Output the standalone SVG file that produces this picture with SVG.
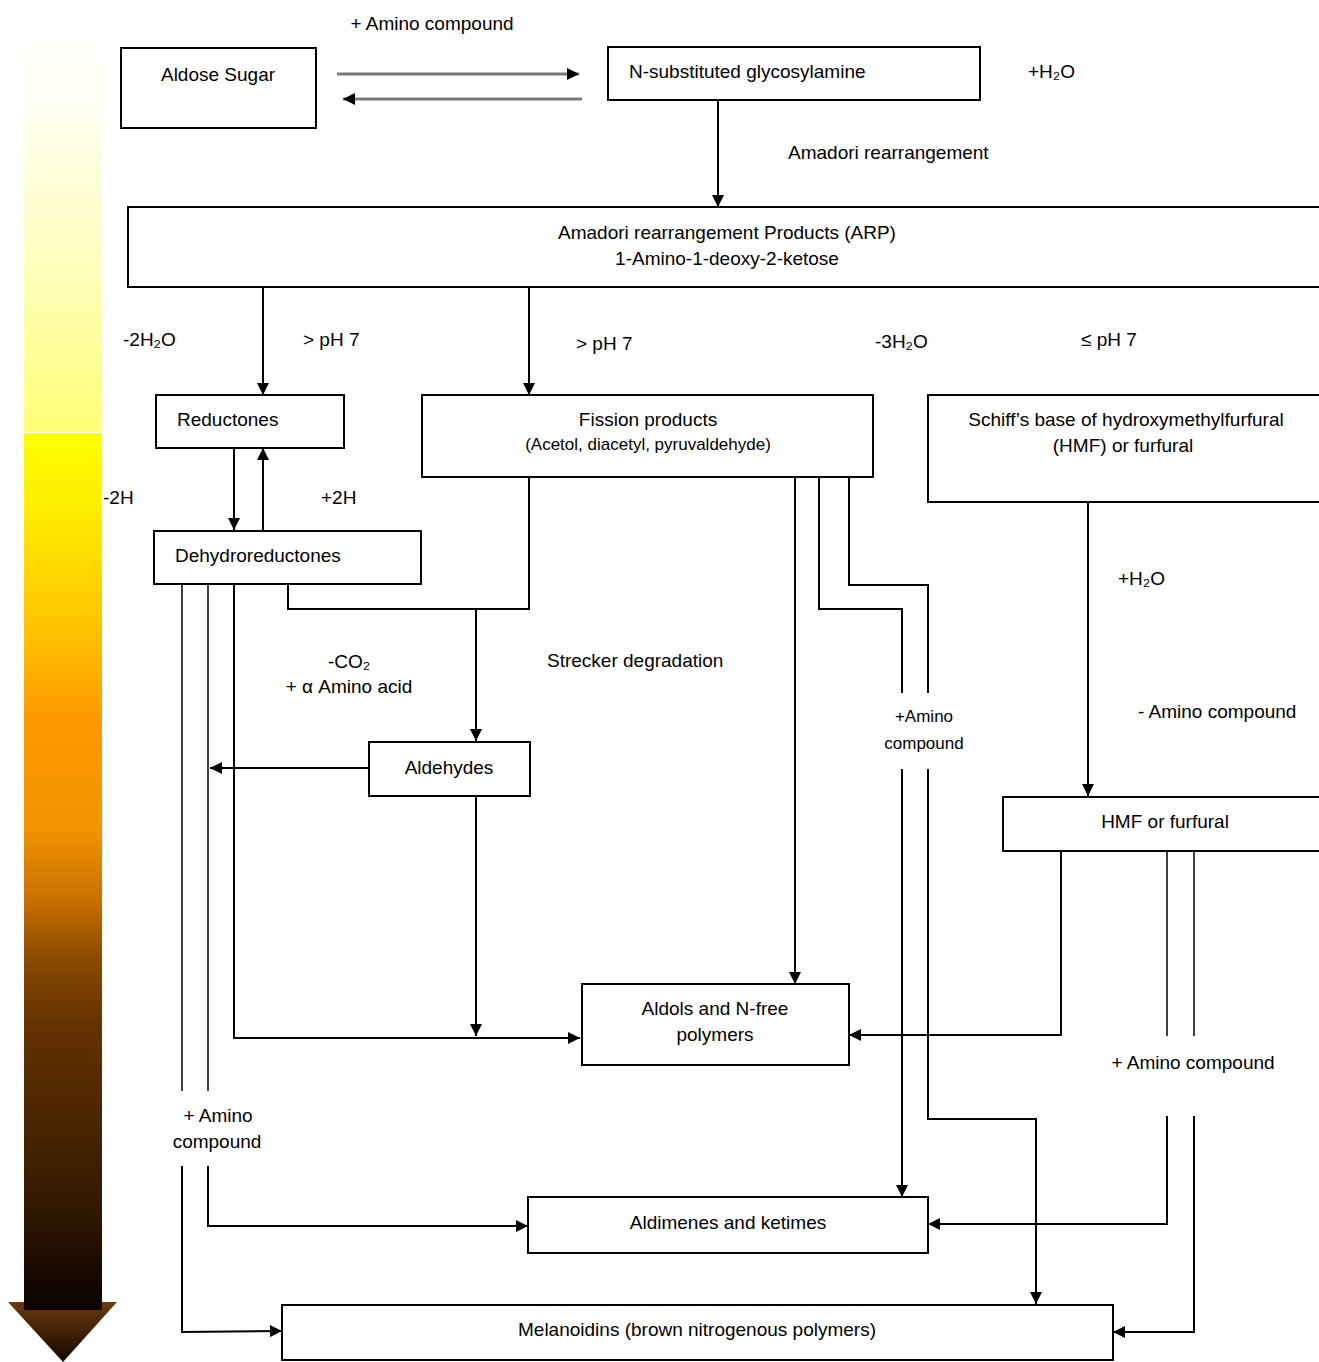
<svg xmlns="http://www.w3.org/2000/svg" width="1319" height="1362" viewBox="0 0 1319 1362">
<style>
text{font-family:"Liberation Sans",Arial,sans-serif;font-size:19px;fill:#000}
.sm{font-size:17px}
.mid{text-anchor:middle}
.box{fill:#fff;stroke:#000;stroke-width:2}
.c{fill:none;stroke:#000;stroke-width:2}
.t{fill:none;stroke:#000;stroke-width:1.5}
.g{fill:none;stroke:#7a7a7a;stroke-width:3}
</style>
<defs>
<marker id="ah" viewBox="0 0 10 10" refX="10" refY="5" markerWidth="15" markerHeight="12" markerUnits="userSpaceOnUse" orient="auto">
<path d="M0,0 L10,5 L0,10 z" fill="#000"/>
</marker>
<linearGradient id="gTop" x1="0" y1="0" x2="0" y2="1">
<stop offset="0" stop-color="#ffffff"/>
<stop offset="0.2" stop-color="#fffff2"/>
<stop offset="0.6" stop-color="#ffffbc"/>
<stop offset="1" stop-color="#ffff78"/>
</linearGradient>
<linearGradient id="gBot" x1="0" y1="0" x2="0" y2="1">
<stop offset="0" stop-color="#ffff00"/>
<stop offset="0.076" stop-color="#fff000"/>
<stop offset="0.167" stop-color="#ffd500"/>
<stop offset="0.21" stop-color="#ffc800"/>
<stop offset="0.327" stop-color="#ff9900"/>
<stop offset="0.453" stop-color="#f29200"/>
<stop offset="0.533" stop-color="#c87000"/>
<stop offset="0.6" stop-color="#8a4a00"/>
<stop offset="0.67" stop-color="#663300"/>
<stop offset="0.76" stop-color="#502800"/>
<stop offset="0.875" stop-color="#351a00"/>
<stop offset="0.977" stop-color="#120600"/>
<stop offset="1" stop-color="#0a0200"/>
</linearGradient>
<linearGradient id="gHead" x1="0" y1="0" x2="0" y2="1">
<stop offset="0" stop-color="#6b3a12"/>
<stop offset="1" stop-color="#140800"/>
</linearGradient>
</defs>

<g id="gradient-arrow">
<polygon points="8,1302 117,1302 63,1362" fill="url(#gHead)"/>
<rect x="24" y="25" width="78" height="407" fill="url(#gTop)"/>
<rect x="24" y="433" width="78" height="877" fill="url(#gBot)"/>
</g>

<g id="connectors">
<line class="g" x1="337" y1="74" x2="579" y2="74" marker-end="url(#ah)"/>
<line class="g" x1="582" y1="99" x2="343" y2="99" marker-end="url(#ah)"/>
<line class="c" x1="718" y1="100" x2="718" y2="207" marker-end="url(#ah)"/>
<line class="c" x1="263" y1="287" x2="263" y2="395" marker-end="url(#ah)"/>
<line class="c" x1="529" y1="287" x2="529" y2="395" marker-end="url(#ah)"/>
<line class="c" x1="234" y1="448" x2="234" y2="530" marker-end="url(#ah)"/>
<line class="c" x1="263" y1="530" x2="263" y2="448" marker-end="url(#ah)"/>
<polyline class="c" points="288,584 288,609 529,609 529,477"/>
<line class="c" x1="476" y1="609" x2="476" y2="741" marker-end="url(#ah)"/>
<line class="c" x1="369" y1="768" x2="210" y2="768" marker-end="url(#ah)"/>
<line class="c" x1="476" y1="796" x2="476" y2="1036" marker-end="url(#ah)"/>
<polyline class="c" points="234,584 234,1038 580,1038" marker-end="url(#ah)"/>
<line class="t" x1="208" y1="584" x2="208" y2="1091"/>
<polyline class="c" points="208,1166 208,1226 528,1226" marker-end="url(#ah)"/>
<line class="t" x1="182" y1="584" x2="182" y2="1091"/>
<polyline class="c" points="182,1166 182,1332 282,1331" marker-end="url(#ah)"/>
<line class="c" x1="795" y1="477" x2="795" y2="984" marker-end="url(#ah)"/>
<polyline class="c" points="819,477 819,609 902,609 902,693"/>
<line class="c" x1="902" y1="769" x2="902" y2="1197" marker-end="url(#ah)"/>
<polyline class="c" points="849,477 849,585 928,585 928,693"/>
<polyline class="c" points="928,769 928,1119 1036,1119 1036,1304" marker-end="url(#ah)"/>
<line class="c" x1="1088" y1="502" x2="1088" y2="796" marker-end="url(#ah)"/>
<polyline class="c" points="1061,851 1061,1035 849,1035" marker-end="url(#ah)"/>
<line class="t" x1="1167" y1="851" x2="1167" y2="1036"/>
<polyline class="c" points="1167,1116 1167,1224 928,1224" marker-end="url(#ah)"/>
<line class="t" x1="1194" y1="851" x2="1194" y2="1036"/>
<polyline class="c" points="1194,1116 1194,1332 1113,1332" marker-end="url(#ah)"/>
</g>

<g id="aldose-sugar">
<rect class="box" x="121" y="48" width="195" height="80"/>
<text class="mid" x="218" y="81">Aldose Sugar</text>
</g>
<g id="glycosylamine">
<rect class="box" x="608" y="47" width="372" height="53"/>
<text x="629" y="78">N-substituted glycosylamine</text>
</g>
<g id="arp">
<rect class="box" x="128" y="207" width="1200" height="80"/>
<text class="mid" x="727" y="239">Amadori rearrangement Products (ARP)</text>
<text class="mid" x="727" y="265">1-Amino-1-deoxy-2-ketose</text>
</g>
<g id="reductones">
<rect class="box" x="156" y="395" width="188" height="53"/>
<text x="177" y="426">Reductones</text>
</g>
<g id="fission-products">
<rect class="box" x="422" y="395" width="451" height="82"/>
<text class="mid" x="648" y="426">Fission products</text>
<text class="mid sm" x="648" y="450">(Acetol, diacetyl, pyruvaldehyde)</text>
</g>
<g id="schiffs-base">
<rect class="box" x="928" y="395" width="400" height="107"/>
<text class="mid" x="1126" y="426">Schiff’s base of hydroxymethylfurfural</text>
<text class="mid" x="1123" y="452">(HMF) or furfural</text>
</g>
<g id="dehydroreductones">
<rect class="box" x="154" y="531" width="267" height="53"/>
<text x="175" y="562">Dehydroreductones</text>
</g>
<g id="aldehydes">
<rect class="box" x="369" y="742" width="161" height="54"/>
<text class="mid" x="449" y="774">Aldehydes</text>
</g>
<g id="hmf">
<rect class="box" x="1003" y="797" width="325" height="54"/>
<text class="mid" x="1165" y="828">HMF or furfural</text>
</g>
<g id="aldols">
<rect class="box" x="582" y="984" width="267" height="81"/>
<text class="mid" x="715" y="1015">Aldols and N-free</text>
<text class="mid" x="715" y="1041">polymers</text>
</g>
<g id="aldimenes">
<rect class="box" x="528" y="1197" width="400" height="56"/>
<text class="mid" x="728" y="1229">Aldimenes and ketimes</text>
</g>
<g id="melanoidins">
<rect class="box" x="282" y="1305" width="831" height="55"/>
<text class="mid" x="697" y="1336">Melanoidins (brown nitrogenous polymers)</text>
</g>

<g id="labels">
<text class="mid" x="432" y="30">+ Amino compound</text>
<text x="1028" y="78">+H₂O</text>
<text x="788" y="159">Amadori rearrangement</text>
<text x="123" y="346">-2H₂O</text>
<text x="303" y="346">&gt; pH 7</text>
<text x="576" y="350">&gt; pH 7</text>
<text x="875" y="348">-3H₂O</text>
<text x="1081" y="346">≤ pH 7</text>
<text x="103" y="504">-2H</text>
<text x="321" y="504">+2H</text>
<text x="1118" y="585">+H₂O</text>
<text class="mid" x="349" y="668">-CO₂</text>
<text class="mid" x="349" y="693">+ α Amino acid</text>
<text x="547" y="667">Strecker degradation</text>
<text class="mid sm" x="924" y="722">+Amino</text>
<text class="mid sm" x="924" y="749">compound</text>
<text x="1138" y="718">- Amino compound</text>
<text class="mid" x="1193" y="1069">+ Amino compound</text>
<text class="mid" x="218" y="1122">+ Amino</text>
<text class="mid" x="217" y="1148">compound</text>
</g>
</svg>
